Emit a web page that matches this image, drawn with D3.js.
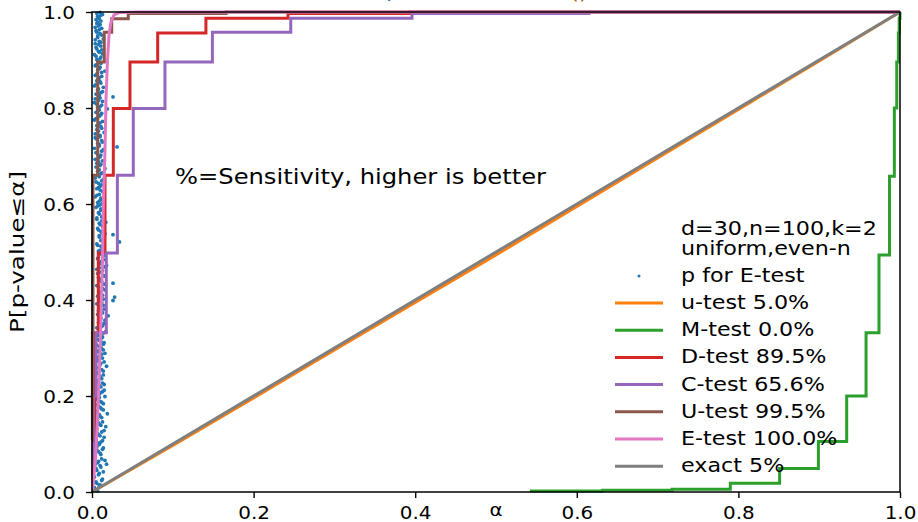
<!DOCTYPE html>
<html>
<head>
<meta charset="utf-8">
<script src="https://cdn.jsdelivr.net/npm/d3@7"></script>
<style>
  body { margin: 0; background: #fff; }
  svg { display: block; font-family: "DejaVu Sans", sans-serif; }
</style>
</head>
<body>
<div id="chart"></div>
<script>
var width = 918;
var height = 522;
var plotLeft = 92, plotRight = 900, plotTop = 12, plotBottom = 492;
var sx = 1.14; // the picture is a bit stretched sideways

var tickValues = [0, 0.2, 0.4, 0.6, 0.8, 1.0];
var legendTitle = ['d=30,n=100,k=2', 'uniform,even-n'];
var scatterName = 'p for E-test';
var lineNames = ['u-test 5.0%', 'M-test 0.0%', 'D-test 89.5%', 'C-test 65.6%',
  'U-test 99.5%', 'E-test 100.0%', 'exact 5%'];
var lineColors = ['#ff7f0e', '#2ca02c', '#d62728', '#9467bd', '#8c564b', '#e377c2', '#7f7f7f'];
var lineStepped = [false, true, true, true, true, false, false];

// [alpha, P] points
var uPts = [[0, 0], [0.1, 0.097], [0.2, 0.196], [0.3, 0.296], [0.4, 0.395], [0.5, 0.494],
  [0.6, 0.595], [0.7, 0.696], [0.8, 0.797], [0.9, 0.898], [1, 1]];
var mPts = [[0.542, 0.002], [0.632, 0.0035], [0.718, 0.0056], [0.790, 0.018], [0.851, 0.049],
  [0.899, 0.105], [0.934, 0.2], [0.958, 0.332], [0.974, 0.494], [0.987, 0.658], [0.993, 0.8],
  [0.996, 0.896], [0.998, 0.956], [0.999, 0.987], [1, 1]];
var dPts = [[0.0005, 0.02], [0.0012, 0.108], [0.0037, 0.332], [0.0078, 0.498], [0.0161, 0.66],
  [0.0264, 0.799], [0.047, 0.896], [0.0813, 0.956], [0.141, 0.987], [0.2426, 0.997],
  [0.3936, 1], [1, 1]];
var cPts = [[0.0008, 0.05], [0.0019, 0.2], [0.005, 0.332], [0.0177, 0.498], [0.0314, 0.66],
  [0.0511, 0.799], [0.0903, 0.896], [0.149, 0.958], [0.246, 0.987], [0.396, 0.997],
  [0.615, 1], [1, 1]];
var bigUPts = [[0.0002, 0.108], [0.0005, 0.332], [0.0012, 0.66], [0.0071, 0.896],
  [0.0152, 0.958], [0.0244, 0.986], [0.0449, 0.997], [0.166, 1], [1, 1]];
var ePts = [[0.0006, 0], [0.0019, 0.025], [0.0043, 0.067], [0.0068, 0.15], [0.0093, 0.254],
  [0.0111, 0.358], [0.013, 0.483], [0.0142, 0.608], [0.0161, 0.712], [0.0173, 0.817],
  [0.0192, 0.9], [0.021, 0.952], [0.0235, 0.979], [0.0272, 0.994], [0.0347, 0.999],
  [0.059, 1], [1, 1]];
var exactPts = [[0, 0], [1, 1]];
var lineData = [uPts, mPts, dPts, cPts, bigUPts, ePts, exactPts];

// p-values of the E-test, [p, P]
var pScatter = [
  [0.004,0.005],[0.009,0.012],[0.006,0.018],[0.012,0.024],[0.003,0.031],[0.008,0.036],[0.014,0.042],
  [0.005,0.049],[0.010,0.055],[0.007,0.061],[0.016,0.066],[0.004,0.072],[0.011,0.078],[0.008,0.084],
  [0.013,0.089],[0.006,0.094],[0.009,0.099],[0.018,0.058],[0.002,0.088],
  [0.011,0.104],[0.005,0.109],[0.015,0.114],[0.008,0.119],[0.012,0.125],[0.006,0.131],[0.017,0.136],
  [0.009,0.141],[0.013,0.146],[0.007,0.152],[0.010,0.158],[0.019,0.163],[0.005,0.168],[0.012,0.173],
  [0.008,0.179],[0.014,0.184],[0.010,0.189],[0.006,0.195],[0.016,0.199],
  [0.009,0.204],[0.013,0.209],[0.007,0.214],[0.011,0.219],[0.015,0.224],[0.008,0.229],[0.012,0.236],
  [0.010,0.241],[0.006,0.247],[0.014,0.252],[0.009,0.257],[0.018,0.262],[0.011,0.268],[0.007,0.273],
  [0.013,0.279],[0.010,0.284],[0.016,0.289],[0.008,0.294],[0.012,0.298],
  [0.009,0.303],[0.014,0.308],[0.011,0.313],[0.007,0.318],[0.013,0.323],[0.010,0.329],[0.017,0.334],
  [0.008,0.339],[0.012,0.345],[0.015,0.351],[0.009,0.356],[0.011,0.362],[0.020,0.367],[0.013,0.373],
  [0.008,0.378],[0.010,0.384],[0.014,0.389],[0.012,0.395],[0.026,0.399],
  [0.009,0.404],[0.028,0.406],[0.013,0.410],[0.011,0.416],[0.016,0.421],[0.008,0.427],[0.026,0.435],
  [0.012,0.438],[0.010,0.444],[0.015,0.450],[0.007,0.455],[0.013,0.461],[0.009,0.467],[0.018,0.472],
  [0.011,0.478],[0.014,0.484],[0.008,0.489],[0.012,0.495],[0.016,0.499],
  [0.010,0.504],[0.013,0.509],[0.007,0.514],[0.034,0.521],[0.011,0.524],[0.015,0.529],[0.009,0.534],
  [0.026,0.536],[0.012,0.540],[0.008,0.546],[0.014,0.551],[0.010,0.557],[0.017,0.562],[0.006,0.568],
  [0.012,0.573],[0.009,0.579],[0.015,0.584],[0.011,0.590],[0.007,0.596],
  [0.013,0.601],[0.009,0.606],[0.011,0.612],[0.006,0.618],[0.015,0.623],[0.010,0.629],[0.008,0.634],
  [0.012,0.640],[0.005,0.646],[0.014,0.651],[0.009,0.657],[0.011,0.663],[0.007,0.668],[0.016,0.674],
  [0.010,0.680],[0.006,0.685],[0.013,0.690],[0.008,0.696],
  [0.011,0.702],[0.005,0.707],[0.014,0.713],[0.031,0.719],[0.009,0.721],[0.007,0.726],[0.012,0.732],
  [0.004,0.738],[0.010,0.743],[0.015,0.749],[0.006,0.755],[0.011,0.761],[0.008,0.766],[0.013,0.772],
  [0.005,0.778],[0.009,0.783],[0.012,0.789],[0.007,0.794],[0.019,0.798],
  [0.010,0.803],[0.006,0.808],[0.013,0.814],[0.004,0.819],[0.026,0.823],[0.009,0.826],[0.011,0.832],
  [0.007,0.837],[0.014,0.843],[0.005,0.849],[0.010,0.855],[0.008,0.860],[0.012,0.866],[0.006,0.871],
  [0.016,0.877],[0.009,0.882],[0.004,0.888],[0.011,0.893],[0.007,0.898],
  [0.010,0.903],[0.005,0.908],[0.013,0.913],[0.008,0.918],[0.006,0.923],[0.011,0.929],[0.004,0.934],
  [0.009,0.939],[0.014,0.944],[0.007,0.950],[0.010,0.955],[0.005,0.961],[0.012,0.966],[0.008,0.971],
  [0.006,0.976],[0.011,0.981],[0.009,0.986],[0.007,0.991],[0.013,0.995],[0.010,0.999],
  [0.007,0.002],[0.003,0.009],[0.010,0.015],[0.005,0.021],[0.013,0.027],[0.002,0.033],[0.009,0.039],
  [0.006,0.045],[0.011,0.052],[0.004,0.058],[0.008,0.064],[0.012,0.069],[0.003,0.075],[0.010,0.081],
  [0.006,0.087],[0.014,0.092],[0.005,0.097],
  [0.008,0.102],[0.013,0.107],[0.004,0.112],[0.010,0.117],[0.007,0.122],[0.015,0.128],[0.005,0.133],
  [0.011,0.139],[0.008,0.144],[0.004,0.149],[0.012,0.155],[0.009,0.161],[0.006,0.166],[0.014,0.171],
  [0.010,0.176],[0.007,0.182],[0.012,0.187],[0.004,0.192],[0.009,0.197],
  [0.006,0.202],[0.011,0.207],[0.015,0.212],[0.005,0.217],[0.009,0.222],[0.013,0.227],[0.007,0.232],
  [0.010,0.238],[0.014,0.244],[0.008,0.249],[0.012,0.255],[0.005,0.260],[0.010,0.265],[0.015,0.271],
  [0.009,0.276],[0.006,0.281],[0.012,0.287],[0.008,0.292],[0.014,0.296],
  [0.011,0.301],[0.006,0.306],[0.015,0.311],[0.009,0.316],[0.012,0.321],[0.007,0.326],[0.014,0.331],
  [0.010,0.337],[0.006,0.342],[0.013,0.347],[0.008,0.353],[0.016,0.358],[0.010,0.364],[0.007,0.370],
  [0.012,0.375],[0.015,0.381],[0.009,0.386],[0.006,0.392],[0.011,0.397],
  [0.014,0.402],[0.007,0.408],[0.011,0.413],[0.009,0.418],[0.013,0.424],[0.006,0.430],[0.015,0.433],
  [0.010,0.441],[0.008,0.447],[0.013,0.452],[0.011,0.458],[0.006,0.464],[0.016,0.469],[0.009,0.475],
  [0.012,0.481],[0.007,0.486],[0.014,0.492],[0.010,0.497],
  [0.008,0.502],[0.015,0.507],[0.011,0.512],[0.006,0.517],[0.013,0.526],[0.009,0.531],[0.016,0.538],
  [0.011,0.543],[0.007,0.549],[0.013,0.554],[0.009,0.560],[0.012,0.565],[0.006,0.571],[0.014,0.576],
  [0.008,0.582],[0.011,0.587],[0.005,0.593],[0.010,0.598],
  [0.007,0.603],[0.012,0.609],[0.004,0.615],[0.009,0.620],[0.013,0.626],[0.006,0.632],[0.010,0.637],
  [0.008,0.643],[0.012,0.648],[0.004,0.654],[0.007,0.660],[0.013,0.665],[0.009,0.671],[0.005,0.677],
  [0.011,0.683],[0.008,0.688],[0.004,0.693],[0.010,0.698],
  [0.007,0.704],[0.012,0.710],[0.003,0.716],[0.009,0.724],[0.013,0.729],[0.006,0.735],[0.010,0.740],
  [0.004,0.746],[0.008,0.752],[0.012,0.758],[0.006,0.763],[0.010,0.769],[0.003,0.775],[0.007,0.780],
  [0.011,0.786],[0.005,0.791],[0.009,0.796],
  [0.007,0.801],[0.012,0.806],[0.003,0.811],[0.008,0.816],[0.010,0.821],[0.005,0.829],[0.013,0.834],
  [0.008,0.840],[0.003,0.846],[0.011,0.852],[0.006,0.857],[0.009,0.863],[0.004,0.868],[0.012,0.874],
  [0.007,0.879],[0.010,0.885],[0.005,0.890],[0.008,0.896],
  [0.006,0.901],[0.011,0.906],[0.003,0.911],[0.009,0.916],[0.012,0.921],[0.005,0.926],[0.008,0.932],
  [0.011,0.937],[0.004,0.942],[0.007,0.947],[0.012,0.952],[0.006,0.958],[0.009,0.963],[0.004,0.968],
  [0.010,0.974],[0.007,0.979],[0.005,0.984],[0.008,0.989],[0.011,0.993],[0.006,0.997]
];

var svg = d3.select('#chart')
  .append('svg')
  .attr('width', width)
  .attr('height', height);

var x = d3.scaleLinear().domain([0, 1]).range([plotLeft, plotRight]);
var y = d3.scaleLinear().domain([0, 1]).range([plotBottom, plotTop]);

function label(g, str, px, py, size, anchor) {
  return g.append('text')
    .attr('transform', 'translate(' + px + ',' + py + ') scale(' + sx + ',1)')
    .attr('font-size', size)
    .attr('text-anchor', anchor || 'start')
    .attr('fill', '#000')
    .text(str);
}

// title, mostly cut off at the top edge
label(svg, 'p', 386, -3, 20).attr('fill', '#1f77b4');
label(svg, '()', 570, -1, 20).attr('fill', '#b0651f');

svg.append('clipPath').attr('id', 'plotclip')
  .append('rect')
  .attr('x', plotLeft - 2).attr('y', plotTop - 2)
  .attr('width', plotRight - plotLeft + 4).attr('height', plotBottom - plotTop + 4);

var plot = svg.append('g').attr('clip-path', 'url(#plotclip)');

plot.selectAll('circle.p')
  .data(pScatter)
  .enter().append('circle')
  .attr('class', 'p')
  .attr('cx', function(d) { return x(d[0]); })
  .attr('cy', function(d) { return y(d[1]); })
  .attr('r', 1.9)
  .style('fill', '#1f77b4');

lineData.forEach(function(pts, i) {
  var line = d3.line()
    .x(function(d) { return x(d[0]); })
    .y(function(d) { return y(d[1]); })
    .curve(lineStepped[i] ? d3.curveStepAfter : d3.curveLinear);
  plot.append('path')
    .datum(pts)
    .attr('d', line)
    .style('fill', 'none')
    .style('stroke', lineColors[i])
    .style('stroke-width', 3)
    .style('stroke-linejoin', 'miter');
});

// axes
var xAxis = svg.append('g')
  .attr('transform', 'translate(0,' + plotBottom + ')')
  .call(d3.axisBottom(x).tickValues(tickValues).tickFormat(d3.format('.1f')).tickSize(6));
var yAxis = svg.append('g')
  .attr('transform', 'translate(' + plotLeft + ',0)')
  .call(d3.axisLeft(y).tickValues(tickValues).tickFormat(d3.format('.1f')).tickSize(6));

[xAxis, yAxis].forEach(function(g) {
  g.select('.domain').remove();
  g.selectAll('.tick line').style('stroke', '#000').style('stroke-width', 1.4);
  g.selectAll('.tick text')
    .attr('font-size', 17.5)
    .attr('font-family', '"DejaVu Sans", sans-serif')
    .attr('fill', '#000');
});
xAxis.selectAll('.tick text')
  .attr('y', 27).attr('dy', 0)
  .attr('transform', 'scale(' + sx + ',1)');
yAxis.selectAll('.tick text')
  .attr('x', -17 / sx).attr('dy', '0.36em')
  .attr('transform', 'scale(' + sx + ',1)');

svg.append('rect')
  .attr('x', plotLeft).attr('y', plotTop)
  .attr('width', plotRight - plotLeft).attr('height', plotBottom - plotTop)
  .style('fill', 'none')
  .style('stroke', '#000')
  .style('stroke-width', 1.5);

label(svg, 'α', (plotLeft + plotRight) / 2, 516, 17.5, 'middle');
svg.append('text')
  .attr('transform', 'translate(24,' + (plotTop + plotBottom) / 2 + ') rotate(-90)')
  .attr('font-size', 19)
  .attr('text-anchor', 'middle')
  .attr('textLength', 162)
  .attr('lengthAdjust', 'spacingAndGlyphs')
  .text('P[p-value≤α]');

svg.append('text')
  .attr('x', 175).attr('y', 184)
  .attr('font-size', 21)
  .attr('textLength', 371)
  .attr('lengthAdjust', 'spacingAndGlyphs')
  .text('%=Sensitivity, higher is better');

// legend
var legend = svg.append('g');
label(legend, legendTitle[0], 681, 235, 19.5);
label(legend, legendTitle[1], 681, 255, 19.5);
legend.append('circle')
  .attr('cx', 639).attr('cy', 276).attr('r', 1.5)
  .style('fill', '#1f77b4');
label(legend, scatterName, 681, 282, 19.5);
lineNames.forEach(function(name, i) {
  var base = 309 + i * 27.2;
  legend.append('line')
    .attr('x1', 615).attr('x2', 663)
    .attr('y1', base - 6).attr('y2', base - 6)
    .style('stroke', lineColors[i])
    .style('stroke-width', 3);
  label(legend, name, 681, base, 19.5);
});
</script>
</body>
</html>
